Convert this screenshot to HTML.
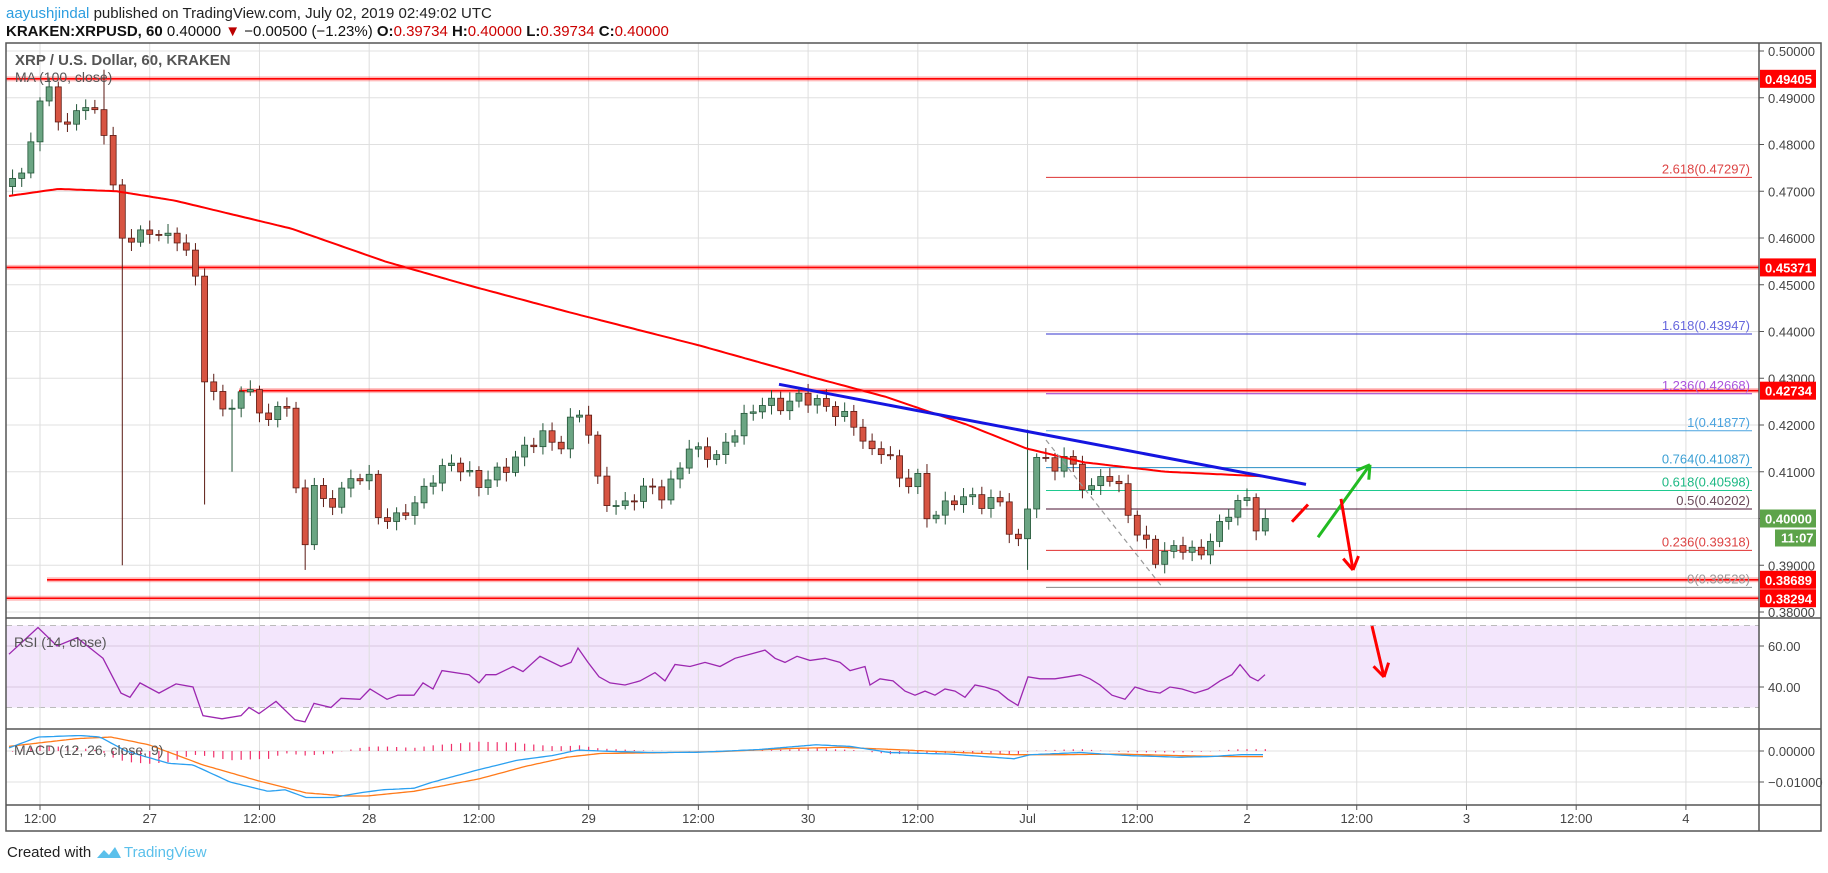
<!DOCTYPE html>
<html><head><meta charset="utf-8"><style>
html,body{margin:0;padding:0;background:#fff;}
body{width:1828px;height:868px;overflow:hidden;font-family:"Liberation Sans",sans-serif;}
</style></head><body>
<svg id="s" width="1828" height="868" xmlns="http://www.w3.org/2000/svg" font-family="Liberation Sans, sans-serif"></svg>
<script>
const S=document.getElementById('s');let h='';
const L=6,R=1759,RB=1821,T=43,MB=618,RB2=729,MB2=805,BB=831;
const py=p=>51+(0.50-p)*4675;
const ry=v=>646+(60-v)*2.05;
const my=v=>751-v*3100;
const tx=t=>40+t*9.144;
function ln(x1,y1,x2,y2,c,w,extra){h+=`<line x1="${x1}" y1="${y1}" x2="${x2}" y2="${y2}" stroke="${c}" stroke-width="${w}" ${extra||''}/>`;}
function tt(x,y,s,c,sz,extra){h+=`<text x="${x}" y="${y}" fill="${c}" font-size="${sz}" ${extra||''}>${s}</text>`;}
// header
h+=`<text x="6" y="18" font-size="15"><tspan fill="#2d9ee0">aayushjindal</tspan><tspan fill="#222"> published on TradingView.com, July 02, 2019 02:49:02 UTC</tspan></text>`;
h+=`<text x="6" y="36" font-size="15" fill="#111"><tspan font-weight="bold">KRAKEN:XRPUSD, 60</tspan><tspan> 0.40000 </tspan><tspan fill="#b00">▼</tspan><tspan> −0.00500 (−1.23%) </tspan><tspan font-weight="bold">O:</tspan><tspan fill="#c00">0.39734</tspan><tspan font-weight="bold"> H:</tspan><tspan fill="#c00">0.40000</tspan><tspan font-weight="bold"> L:</tspan><tspan fill="#c00">0.39734</tspan><tspan font-weight="bold"> C:</tspan><tspan fill="#c00">0.40000</tspan></text>`;
// rsi band
h+=`<rect x="${L}" y="${ry(70)}" width="${R-L}" height="${ry(30)-ry(70)}" fill="#f3e6fc"/>`;
// grids
for(let p=0.38;p<=0.5001;p+=0.01){ln(L,py(p),R,py(p),'#e0e0e0',1);ln(R,py(p),R+5,py(p),'#555',1);tt(R+9,py(p)+5,p.toFixed(5),'#444',13);}
[60,40].forEach(v=>{ln(L,ry(v),R,ry(v),'#d8c8e0',1);ln(R,ry(v),R+5,ry(v),'#555',1);tt(R+9,ry(v)+5,v.toFixed(2),'#444',13);});
[70,30].forEach(v=>ln(L,ry(v),R,ry(v),'#bbb',1,'stroke-dasharray="6,5"'));
[[0,'0.00000'],[-0.01,'−0.01000']].forEach(a=>{ln(L,my(a[0]),R,my(a[0]),'#e0e0e0',1);ln(R,my(a[0]),R+5,my(a[0]),'#555',1);tt(R+9,my(a[0])+5,a[1],'#444',13);});
const labs=["12:00","27","12:00","28","12:00","29","12:00","30","12:00","Jul","12:00","2","12:00","3","12:00","4"];
labs.forEach((s,i)=>{const x=tx(i*12);ln(x,T,x,MB2,'#dedede',1);ln(x,MB2,x,MB2+5,'#555',1);tt(x,823,s,'#444',13,'text-anchor="middle"');});
// data
function interp(pts,x){for(let i=0;i<pts.length-1;i++){if(x<=pts[i+1][0]){const a=pts[i],b=pts[i+1];return a[1]+(b[1]-a[1])*(x-a[0])/(b[0]-a[0]);}}return pts[pts.length-1][1];}
const K=[[8,.474],[18,.472],[25,.48],[35,.49],[45,.492],[50,.486],[60,.483],[70,.49],[80,.487],[90,.482],[95,.478],[100,.463],[107,.457],[118,.463],[125,.459],[135,.462],[150,.459],[165,.458],[175,.43],[185,.427],[190,.422],[200,.425],[212,.428],[220,.425],[230,.42],[240,.425],[250,.424],[255,.4],[262,.395],[268,.408],[280,.402],[290,.405],[300,.408],[315,.41],[325,.4],[340,.4],[355,.403],[375,.41],[390,.412],[400,.41],[410,.407],[420,.409],[435,.411],[450,.415],[465,.418],[480,.415],[495,.424],[505,.418],[515,.405],[530,.402],[545,.405],[560,.407],[570,.404],[580,.41],[590,.415],[605,.414],[615,.413],[625,.417],[640,.422],[655,.425],[670,.424],[685,.426],[700,.425],[715,.423],[730,.421],[745,.415],[750,.413],[760,.416],[770,.408],[780,.408],[790,.409],[795,.4],[805,.402],[815,.403],[825,.405],[835,.404],[845,.403],[855,.405],[865,.398],[875,.394],[880,.398],[885,.415],[895,.412],[905,.411],[915,.414],[925,.408],[935,.406],[945,.409],[955,.409],[962,.405],[972,.398],[982,.395],[990,.391],[1000,.393],[1015,.394],[1030,.392],[1040,.397],[1050,.399],[1060,.404],[1068,.405],[1075,.3973],[1085,.4]].map(a=>[a[0]*1.166,a[1]]);
const MA=[[8,.469],[50,.4705],[100,.470],[150,.468],[250,.462],[330,.455],[400,.450],[490,.444],[600,.437],[700,.430],[760,.426],[830,.420],[880,.415],[930,.412],[1000,.410],[1085,.409]].map(a=>[a[0]*1.166,a[1]]);
// horizontal red levels
function red(x1,p){const y=py(p);ln(x1,y,R,y,'rgba(255,60,60,0.35)',5);ln(x1,y,R,y,'#f00',1.6);}
red(L,.49405);red(L,.45371);red(239,.42734);red(47,.38689);red(L,.38294);
// fib
const FX=1046,FE=1752;
[[2.618,.47297,'#d33','#d44'],[1.618,.43947,'#33c','#66d'],[1.236,.42668,'#93c','#a5d'],[1,.41877,'#4aa3df','#4aa3df'],[0.764,.41087,'#2a8fc4','#3a9fd4'],[0.618,.40598,'#1ec98f','#1cb884'],[0.5,.40202,'#4a1030','#6a4a5a'],[0.236,.39318,'#e03030','#d44'],[0,.38528,'#888','#999']].forEach(f=>{const y=py(f[1]);ln(FX,y,FE,y,f[2],1);tt(FE-2,y-4,`${f[0]}(${f[1].toFixed(5)})`,f[3],13,'text-anchor="end"');});
// candles
let prev=null;const N=[];
for(let t=-3;t<=134;t++){const x=tx(t);let c=interp(K,x)+0.0012*Math.sin(t*2.3);if(t==134)c=.4;if(t==133)c=.39734;let o=prev===null?.471:prev;prev=c;
let hi=Math.max(o,c)+0.0008+0.0012*Math.abs(Math.sin(t*1.7)),lo=Math.min(o,c)-0.0008-0.0012*Math.abs(Math.cos(t*1.3));
const px=x;N.push([px,o,c,hi,lo]);}
const spec={};
N.forEach((n,i)=>{let [x,o,c,hi,lo]=n;
if(Math.abs(x-122)<5)lo=.39; if(Math.abs(x-204)<5)lo=.403; if(Math.abs(x-305)<5)lo=.389; if(Math.abs(x-232)<5)lo=.41;if(Math.abs(x-108)<5)hi=.496;if(Math.abs(x-1030)<5)hi=.419;if(Math.abs(x-1025)<5)lo=.389;
const up=c>=o;const col=up?'#6ba583':'#d75442',bd=up?'#225437':'#5b1a13';
ln(x,py(hi),x,py(lo),bd,1);const y1=py(Math.max(o,c)),y2=py(Math.min(o,c));h+=`<rect x="${x-3}" y="${y1}" width="6" height="${Math.max(1,y2-y1)}" fill="${col}" stroke="${bd}" stroke-width="0.8"/>`;});
// MA
let d='';for(let x=9;x<=1265;x+=4)d+=(d?'L':'M')+x.toFixed(1)+','+py(interp(MA,x)).toFixed(1);
h+=`<path d="${d}" fill="none" stroke="#f00" stroke-width="2"/>`;
// trendline & dashed
ln(779,py(.4287),1306,py(.4073),'#1515e0',3);
ln(1046,440,1163,588,'#999',1.2,'stroke-dasharray="5,4"');
// arrows
function arrow(x1,y1,x2,y2,c){ln(x1,y1,x2,y2,c,3);const a=Math.atan2(y2-y1,x2-x1),L2=15;
[a+2.6,a-2.6].forEach(b=>ln(x2,y2,x2+L2*Math.cos(b),y2+L2*Math.sin(b),c,3));}
arrow(1318,py(.396),1370,py(.4115),'#22bb22');
ln(1292,py(.3993),1308,py(.403),'#f00',3);
arrow(1341,py(.4042),1353,570,'#f00');
arrow(1372,626,1384,677,'#f00');
// RSI
const RS=[[9,56],[38,69],[57,60],[77,64],[103,54],[121,37],[130,35],[140,42],[159,37],[176,41.5],[193,40],[203,26],[222,24.5],[241,26],[249,30],[259,27],[276,33],[295,24],[305,23],[314,32],[331,30],[341,34.5],[360,34],[370,39],[387,34],[398,36],[414,36],[423,42],[433,39],[442,48],[469,46],[479,42],[486,46],[496,46],[513,50],[523,47.5],[540,55],[561,50],[571,52],[578,59],[588,52],[599,45],[610,42],[625,41],[640,43],[655,47],[665,43],[675,51],[690,50],[705,52],[720,50],[735,54],[750,56],[765,58],[775,54],[785,52],[797,55],[810,53],[825,54],[840,52],[850,48],[865,50],[870,41],[880,44],[893,43],[905,38],[915,36],[925,38],[935,36],[945,39],[955,38],[965,35],[975,41],[985,40],[998,38],[1008,34],[1018,31],[1028,45],[1040,44],[1055,44],[1068,45],[1080,46],[1090,44],[1100,41],[1112,36],[1125,34],[1135,40],[1148,38],[1160,37],[1170,40],[1182,39],[1195,37],[1208,39],[1220,43],[1232,46],[1240,51],[1250,45],[1258,43],[1265,46]];
d='';RS.forEach(p=>d+=(d?'L':'M')+p[0]+','+ry(p[1]).toFixed(1));
h+=`<path d="${d}" fill="none" stroke="#9c27b0" stroke-width="1.3"/>`;
// MACD
const MB_=[[9,.001],[38,.0045],[80,.005],[100,.0045],[126,0],[169,-.004],[193,-.0045],[230,-.01],[268,-.013],[285,-.0125],[306,-.015],[333,-.015],[360,-.0135],[383,-.0125],[414,-.012],[433,-.01],[479,-.006],[517,-.003],[552,-.0015],[578,.0003],[600,0],[650,-.0005],[700,-.0004],[760,.0005],[816,.002],[850,.0015],[890,-.0005],[950,-.001],[1014,-.0025],[1030,-.0012],[1080,-.0005],[1130,-.0015],[1180,-.002],[1210,-.0018],[1240,-.0012],[1265,-.0012]];
const MO=[[9,.0015],[77,.004],[111,.0045],[149,.002],[203,-.0045],[257,-.0095],[306,-.0135],[345,-.0145],[368,-.0145],[414,-.013],[479,-.009],[525,-.005],[567,-.002],[600,-.0008],[650,-.0006],[720,-.0002],[790,.0008],[840,.0012],[900,.0004],[960,-.0005],[1014,-.0012],[1060,-.0012],[1120,-.001],[1180,-.0015],[1230,-.0018],[1265,-.0018]];
for(let t=-3;t<=134;t++){const x=tx(t);const v=interp(MB_,x)-interp(MO,x);ln(x,my(0),x,my(v),'#f0306a',1.2);}
[[MO,'#ff7a1a'],[MB_,'#2ba0f0']].forEach(s=>{d='';for(let x=9;x<=1265;x+=3)d+=(d?'L':'M')+x+','+my(interp(s[0],x)).toFixed(1);h+=`<path d="${d}" fill="none" stroke="${s[1]}" stroke-width="1.3"/>`;});
// legends
tt(15,65,'XRP / U.S. Dollar, 60, KRAKEN','#555',15,'font-weight="bold"');
tt(15,82,'MA (100, close)','#555',14);
tt(14,647,'RSI (14, close)','#555',14);
tt(14,755,'MACD (12, 26, close, 9)','#555',14);
// axis boxes
function box(p,s,c){const y=py(p);h+=`<rect x="${R+1}" y="${y-9}" width="56" height="18" fill="${c}"/>`;tt(R+6,y+5,s,'#fff',13,'font-weight="bold"');}
box(.49405,'0.49405','#f00');box(.45371,'0.45371','#f00');box(.42734,'0.42734','#f00');box(.38689,'0.38689','#f00');box(.38294,'0.38294','#f00');box(.4,'0.40000','#5da34a');
h+=`<rect x="${R+16}" y="${py(.4)+11}" width="41" height="17" fill="#5da34a"/>`;tt(R+22,py(.4)+24,'11:07','#fff',13,'font-weight="bold"');
// borders
h+=`<g stroke="#555" stroke-width="1.5" fill="none"><rect x="${L}" y="${T}" width="${RB-L}" height="${BB-T}"/>`;
h+=`<line x1="${R}" y1="${T}" x2="${R}" y2="${BB}"/><line x1="${L}" y1="${MB}" x2="${RB}" y2="${MB}"/><line x1="${L}" y1="${RB2}" x2="${RB}" y2="${RB2}"/><line x1="${L}" y1="${MB2}" x2="${RB}" y2="${MB2}"/></g>`;
// footer
tt(7,857,'Created with','#222',15);
h+=`<path d="M97,858 l7,-8 l5,5 l6,-8 l6,11 z" fill="#5bc0eb"/>`;
tt(124,857,'TradingView','#5bc0eb',15);
S.innerHTML=h;
</script>
</body></html>
